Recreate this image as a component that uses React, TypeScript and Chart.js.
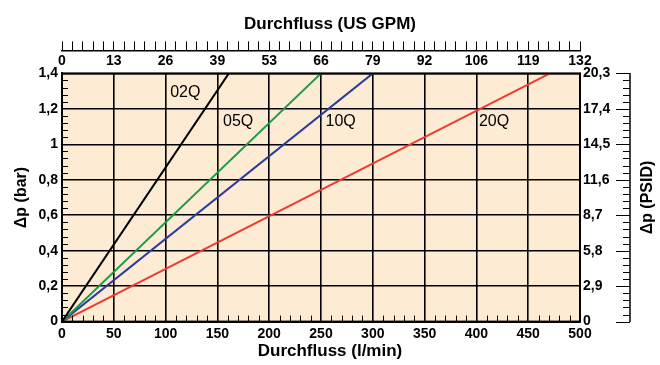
import React, { useEffect, useRef } from 'react';
import { Chart, registerables } from 'chart.js';

Chart.register(...registerables);

// ---- Data ----
const GPM_LABELS = ['0', '13', '26', '39', '53', '66', '79', '92', '106', '119', '132'];
const BAR_LABELS = ['0', '0,2', '0,4', '0,6', '0,8', '1', '1,2', '1,4'];
const PSID_LABELS = ['0', '2,9', '5,8', '8,7', '11,6', '14,5', '17,4', '20,3'];

const SERIES_NAMES = ['02Q', '05Q', '10Q', '20Q'];
const SERIES_COLORS = ['#000000', '#1b9a47', '#2a3d9c', '#ee3b2f'];
const FLOW_02Q = [0, 161];
const FLOW_05Q = [0, 250];
const FLOW_10Q = [0, 300];
const FLOW_20Q = [0, 471];
const DP_02Q = [0, 1.4];
const DP_05Q = [0, 1.4];
const DP_10Q = [0, 1.4];
const DP_20Q = [0, 1.4];
const SERIES_FLOW = [FLOW_02Q, FLOW_05Q, FLOW_10Q, FLOW_20Q];
const SERIES_DP = [DP_02Q, DP_05Q, DP_10Q, DP_20Q];

// label anchor positions (data units)
const LABEL_FLOW = [119, 170, 269, 417];
const LABEL_DP = [1.29, 1.13, 1.13, 1.13];

const FONT = '"Liberation Sans", Arial, Helvetica, sans-serif';
const BG = '#fdebd3';

const decorPlugin = {
  id: 'decor',
  beforeDraw(chart: any) {
    const { ctx, chartArea: a } = chart;
    ctx.save();
    ctx.fillStyle = BG;
    ctx.fillRect(a.left, a.top, a.right - a.left, a.bottom - a.top);
    ctx.restore();
  },
  afterDraw(chart: any) {
    const { ctx, chartArea: a } = chart;
    const xs = chart.scales.x;
    const ys = chart.scales.y;
    const res = chart.scales.yReserve;
    ctx.save();
    ctx.strokeStyle = '#000';
    ctx.lineWidth = 1;
    // inner minor ticks bottom (every 10 l/min)
    for (let i = 0; i <= 50; i++) {
      if (i % 5 === 0) continue;
      const px = Math.round(xs.getPixelForValue(i * 10)) + 0.5;
      ctx.beginPath();
      ctx.moveTo(px, a.bottom);
      ctx.lineTo(px, a.bottom - 6);
      ctx.stroke();
    }
    // inner minor ticks left (every 0.04 bar)
    for (let i = 0; i <= 35; i++) {
      if (i % 5 === 0) continue;
      const py = Math.round(ys.getPixelForValue(i * 0.04)) + 0.5;
      ctx.beginPath();
      ctx.moveTo(a.left, py);
      ctx.lineTo(a.left + 6, py);
      ctx.stroke();
    }
    // right ruler
    const rx = res.left + 16;
    ctx.lineWidth = 1.5;
    ctx.beginPath();
    ctx.moveTo(rx, ys.getPixelForValue(0) + 0.5);
    ctx.lineTo(rx, ys.getPixelForValue(1.4) - 0.5);
    ctx.stroke();
    ctx.lineWidth = 1;
    for (let i = 0; i <= 35; i++) {
      const py = Math.round(ys.getPixelForValue(i * 0.04)) + 0.5;
      const len = i % 5 === 0 ? 14 : 7;
      ctx.beginPath();
      ctx.moveTo(rx, py);
      ctx.lineTo(rx - len, py);
      ctx.stroke();
    }
    // frame
    ctx.lineWidth = 2;
    ctx.strokeRect(a.left, a.top, a.right - a.left, a.bottom - a.top);
    // right title (reads bottom to top)
    ctx.fillStyle = '#000';
    ctx.font = `bold 16px ${FONT}`;
    ctx.textAlign = 'center';
    ctx.textBaseline = 'middle';
    ctx.translate(res.left + 34, (a.top + a.bottom) / 2);
    ctx.rotate(-Math.PI / 2);
    ctx.fillText('Δp (PSID)', 0, 0);
    ctx.restore();
  },
  afterDatasetsDraw(chart: any) {
    const { ctx } = chart;
    const xs = chart.scales.x;
    const ys = chart.scales.y;
    ctx.save();
    ctx.fillStyle = '#000';
    ctx.font = `16px ${FONT}`;
    ctx.textAlign = 'center';
    ctx.textBaseline = 'middle';
    SERIES_NAMES.forEach((n, i) => {
      ctx.fillText(n, xs.getPixelForValue(LABEL_FLOW[i]), ys.getPixelForValue(LABEL_DP[i]));
    });
    ctx.restore();
  },
};

export default function App() {
  const ref = useRef<HTMLCanvasElement | null>(null);
  useEffect(() => {
    if (!ref.current) return;
    const tickFont = { family: FONT, size: 14, weight: 'bold' as const };
    const titleFont = { family: FONT, size: 17, weight: 'bold' as const };
    const chart = new Chart(ref.current, {
      type: 'line',
      data: {
        datasets: SERIES_NAMES.map((name, i) => ({
          label: name,
          data: SERIES_FLOW[i].map((x, j) => ({ x, y: SERIES_DP[i][j] })),
          borderColor: SERIES_COLORS[i],
          backgroundColor: SERIES_COLORS[i],
          borderWidth: 2,
          pointRadius: 0,
          fill: false,
          tension: 0,
          xAxisID: 'x',
          yAxisID: 'y',
        })),
      },
      options: {
        animation: false,
        responsive: false,
        maintainAspectRatio: false,
        layout: { padding: 0 },
        plugins: {
          legend: { display: false },
          tooltip: { enabled: false },
          title: {
            display: true,
            text: 'Durchfluss (US GPM)',
            color: '#000',
            font: titleFont,
            padding: { top: 14, bottom: 7 },
          },
          subtitle: {
            display: true,
            position: 'bottom',
            text: 'Durchfluss (l/min)',
            color: '#000',
            font: titleFont,
            padding: { top: 0, bottom: 3 },
          },
        },
        scales: {
          x: {
            type: 'linear',
            position: 'bottom',
            min: 0,
            max: 500,
            ticks: { stepSize: 50, color: '#000', font: tickFont, padding: 4, maxRotation: 0, autoSkip: false },
            grid: { color: '#000', lineWidth: 1.6, drawTicks: false },
            border: { color: '#000', width: 2 },
            afterFit: (s: any) => { s.height = 20; },
          },
          xTop: {
            type: 'linear',
            position: 'top',
            min: 0,
            max: 500,
            ticks: {
              stepSize: 50,
              color: '#000',
              font: tickFont,
              padding: 4,
              maxRotation: 0,
              autoSkip: false,
              callback: (_v: any, i: number) => GPM_LABELS[i],
            },
            grid: { display: false, drawTicks: false },
            border: { display: false },
            afterFit: (s: any) => { s.height = 23; },
          },
          xRuler: {
            type: 'linear',
            position: 'top',
            weight: 1,
            min: 0,
            max: 500,
            ticks: { stepSize: 10, maxTicksLimit: 100, display: false },
            grid: { drawOnChartArea: false, drawTicks: true, tickLength: 9, color: '#000', lineWidth: 1 },
            border: { display: true, color: '#000', width: 1.5 },
            afterFit: (s: any) => { s.height = 9; },
          },
          y: {
            type: 'linear',
            position: 'left',
            min: 0,
            max: 1.4,
            ticks: {
              stepSize: 0.2,
              color: '#000',
              font: tickFont,
              padding: 4,
              callback: (_v: any, i: number) => BAR_LABELS[i],
            },
            grid: { color: '#000', lineWidth: 1.6, drawTicks: false },
            border: { color: '#000', width: 2 },
            title: {
              display: true,
              text: 'Δp (bar)',
              color: '#000',
              font: { family: FONT, size: 16, weight: 'bold' },
              padding: { top: 12, bottom: 0 },
            },
            afterFit: (s: any) => { s.width = 62; },
          },
          yRight: {
            type: 'linear',
            position: 'right',
            min: 0,
            max: 1.4,
            ticks: {
              stepSize: 0.2,
              color: '#000',
              font: tickFont,
              padding: 3,
              callback: (_v: any, i: number) => PSID_LABELS[i],
            },
            grid: { display: false, drawTicks: false },
            border: { display: false },
            afterFit: (s: any) => { s.width = 34; },
          },
          yReserve: {
            type: 'linear',
            position: 'right',
            weight: 1,
            min: 0,
            max: 1.4,
            ticks: { display: false },
            grid: { display: false, drawTicks: false },
            border: { display: false },
            afterFit: (s: any) => { s.width = 46; },
          },
        },
      } as any,
      plugins: [decorPlugin],
    });
    return () => chart.destroy();
  }, []);

  return (
    <div style={{ position: 'absolute', left: 0, top: 0, width: 660, height: 365, background: '#fff' }}>
      <canvas ref={ref} width={660} height={365} />
    </div>
  );
}
